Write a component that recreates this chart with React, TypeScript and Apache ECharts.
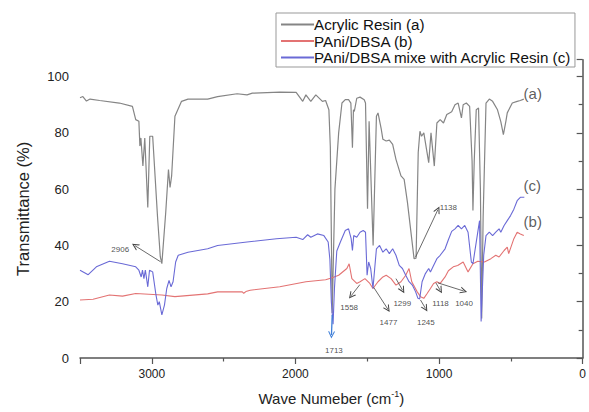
import { useEffect, useRef } from 'react';
import * as echarts from 'echarts';

// Acrylic Resin (a): [wave number, transmittance]
const acrylic: number[][] = [
  [3500, 92.5], [3480, 92.9], [3455, 91.3], [3430, 92.0], [3363, 91.5], [3226, 90.6], [3135, 89.4],
  [3112, 84.7], [3090, 84.1], [3083, 75.3], [3076, 78.2], [3062, 68.2], [3049, 78.2], [3028, 53.5],
  [3014, 78.8], [2994, 78.8], [2960, 50], [2948, 41.2], [2941, 36], [2930, 33.5], [2903, 51.8],
  [2884, 67], [2873, 60.6], [2862, 64.7], [2839, 85.9], [2793, 91.2], [2748, 92.0], [2611, 92.0],
  [2542, 92.9], [2406, 93.9], [2337, 93.5], [2300, 94.1], [2109, 94.5], [1995, 94.4], [1949, 91.2],
  [1927, 93.5], [1893, 91.2], [1858, 93.5], [1812, 91.2], [1790, 91.5], [1767, 88.2], [1757, 75],
  [1749, 40], [1744, 16], [1738, 30], [1725, 60], [1699, 80], [1676, 90.6], [1653, 91.8], [1630, 91.8],
  [1614, 90.6], [1603, 74.7], [1596, 88.2], [1590, 87.6], [1573, 92.3], [1550, 92.7], [1521, 91.8],
  [1512, 90.6], [1498, 53], [1487, 84.1], [1459, 40], [1436, 85.9], [1425, 87.1], [1402, 81.2],
  [1391, 77.7], [1368, 77.1], [1346, 77.4], [1323, 75.9], [1300, 70.6], [1265, 64.7], [1243, 63.5],
  [1220, 55.3], [1174, 35.3], [1160, 35.5], [1145, 73], [1133, 80.6], [1122, 78.8], [1106, 80],
  [1072, 69.4], [1056, 80], [1033, 68.2], [1015, 83.5], [992, 84.7], [969, 83.5], [946, 86.5],
  [930, 87], [912, 87.5], [889, 90], [867, 90.6], [844, 85.3], [832, 90], [810, 90.6], [787, 89.4],
  [770, 70], [764, 52.4], [755, 70], [741, 88.2], [725, 88.8], [712, 60], [703, 14], [693, 50],
  [673, 90.6], [650, 92], [627, 91.2], [593, 88.2], [570, 84], [552, 79.4], [535, 84], [525, 87.1],
  [490, 90.6], [456, 91.2], [434, 91.5], [410, 92],
];

// PAni/DBSA (b)
const pani: number[][] = [
  [3500, 20.6], [3409, 20.9], [3295, 22.4], [3204, 22.0], [3112, 22.9], [2930, 22.4], [2839, 21.8],
  [2611, 22.8], [2542, 23.5], [2370, 23.5], [2360, 23.0], [2345, 23.6], [2315, 24.1], [2109, 25.3],
  [1927, 27.1], [1790, 27.8], [1744, 28.5], [1699, 29.4], [1642, 31.8], [1626, 33.5], [1607, 28.2],
  [1573, 26.5], [1550, 27.1], [1516, 28.2], [1482, 26.5], [1460, 24.7], [1425, 27.1], [1391, 28.8],
  [1368, 29.4], [1334, 28.2], [1300, 25.9], [1265, 27.1], [1232, 29.4], [1209, 31.8], [1190, 27.1],
  [1152, 23.5], [1129, 21.8], [1106, 21.2], [1083, 22.9], [1060, 24.7], [1038, 26.5], [1015, 27.1],
  [992, 26.5], [958, 28.8], [935, 31], [901, 32.4], [870, 32.9], [832, 34.1], [798, 30.6], [764, 33.5],
  [730, 34.4], [684, 34.1], [639, 35.3], [605, 36.5], [582, 35.9], [547, 38.2], [525, 39.4], [515, 37.1],
  [479, 42.4], [456, 44.7], [434, 44.1], [410, 43.5],
];

// PAni/DBSA mixed with Acrylic Resin (c)
const mix: number[][] = [
  [3500, 31.2], [3443, 29.6], [3386, 32.4], [3295, 34.4], [3204, 33.5], [3112, 32.4], [3090, 31.2],
  [3074, 28.8], [3065, 31.2], [3055, 28.2], [3045, 31.2], [3028, 25.3], [3016, 31.2], [2994, 30.6],
  [2971, 22.4], [2958, 18.8], [2948, 20], [2930, 15.3], [2912, 18.8], [2896, 24.7], [2880, 27.6],
  [2866, 25.3], [2852, 27.1], [2834, 34.1], [2816, 36.5], [2748, 37.6], [2679, 38.2], [2611, 38.8],
  [2542, 40], [2337, 41.2], [2132, 42.4], [1995, 42.9], [1949, 42.1], [1915, 43.8], [1893, 42.9],
  [1847, 44.1], [1802, 43.5], [1772, 41.2], [1760, 35], [1750, 20], [1738, 12], [1728, 25], [1712, 38],
  [1687, 41.2], [1653, 45.3], [1630, 45.9], [1612, 42.4], [1603, 38.2], [1594, 43.5], [1573, 42.9],
  [1550, 44.7], [1528, 45.3], [1512, 44.7], [1501, 29.4], [1490, 34.1], [1476, 31.8], [1460, 24.7],
  [1448, 31.8], [1436, 38.8], [1414, 40], [1391, 37.6], [1368, 38.8], [1346, 37.1], [1323, 38.8],
  [1300, 36.5], [1277, 32.9], [1255, 31.8], [1232, 29.4], [1209, 27.1], [1186, 25.9], [1163, 23.5],
  [1147, 21.2], [1135, 21.0], [1118, 27.1], [1095, 30], [1072, 31.8], [1060, 30.6], [1038, 32.9],
  [1015, 35.3], [992, 36.5], [958, 38.8], [935, 42], [912, 45], [889, 45.9], [867, 47.1], [844, 45.9],
  [821, 47.1], [798, 44.7], [775, 34.1], [764, 33.5], [741, 41.2], [718, 48.8], [707, 13], [689, 36.5],
  [673, 43.5], [650, 44.7], [627, 43.5], [605, 44.7], [582, 45.9], [570, 44.7], [547, 47.1], [525, 48.8],
  [502, 50.6], [479, 52.9], [456, 55.9], [434, 57.1], [406, 57.1],
];

const seriesNames = ['Acrylic Resin (a)', 'PAni/DBSA (b)', 'PAni/DBSA mixe with Acrylic Resin (c)'];

// peak annotation texts: [wn, T, text]
const peakLabels: (number | string)[][] = [
  [3220, 38.6, '2906'], [935, 53.5, '1138'], [1626, 17.9, '1558'], [1352, 12.7, '1477'],
  [1256, 19.2, '1299'], [1092, 12.7, '1245'], [990, 19.2, '1118'], [826, 19.2, '1040'],
  [1732, 2.7, '1713'],
];
const curveLabels: (number | string)[][] = [
  [415, 93.9, '(a)'], [415, 61.2, '(c)'], [415, 48.5, '(b)'],
];
// arrows: [tail, head]
const arrows: number[][][] = [
  [[2939, 34.2], [3117, 39.9]],
  [[1163, 35.9], [1008, 52.7]],
  [[1551, 26.1], [1612, 22.1]],
  [[1455, 25.1], [1357, 17.4]],
  [[1300, 28.2], [1254, 24.1]],
  [[1129, 20.6], [1094, 17.6]],
  [[1022, 26.7], [992, 24.1]],
  [[1008, 26.7], [828, 23.8]],
];
const blueArrow: number[][] = [[1744, 15.3], [1749, 8.2]];

const chevron = 'path://M0,10 L5,0 L10,10 L8.4,10 L5,3.2 L1.6,10 Z';

export default function App() {
  const ref = useRef<HTMLDivElement>(null);
  useEffect(() => {
    if (!ref.current) return;
    const chart = echarts.init(ref.current, null, { renderer: 'svg' });
    const font = 'Liberation Sans, Arial, sans-serif';
    const lineData = [
      ...arrows.map((a) => [{ coord: a[0] }, { coord: a[1] }]),
      [
        { coord: blueArrow[0], lineStyle: { color: '#3f7fd8', width: 1.3 } },
        { coord: blueArrow[1] },
      ],
    ];
    chart.setOption({
      animation: false,
      textStyle: { fontFamily: font },
      grid: { left: 80, right: -3, top: 59.7, bottom: 52, containLabel: false },
      legend: {
        data: seriesNames,
        orient: 'vertical',
        left: 276,
        top: 13,
        padding: [4, 3, 2, 4],
        itemGap: 1.5,
        itemWidth: 33,
        itemHeight: 14,
        borderColor: '#999',
        borderWidth: 1,
        itemStyle: { opacity: 0 },
        textStyle: { fontSize: 15.2, color: '#111', fontFamily: font, padding: [0, 0, 0, -5] },
      },
      xAxis: {
        type: 'value',
        min: 0,
        max: 3500,
        interval: 1000,
        inverse: true,
        name: 'Wave Numeber (cm{sup|-1})',
        nameLocation: 'middle',
        nameGap: 31,
        nameTextStyle: {
          fontSize: 15,
          color: '#222',
          lineHeight: 18,
          rich: { sup: { fontSize: 9, lineHeight: 10, verticalAlign: 'top', color: '#222' } },
        },
        axisLine: { show: true, onZero: false, lineStyle: { color: '#555', width: 1.5 } },
        axisTick: { show: true, length: 6, lineStyle: { color: '#555', width: 1.2 } },
        minorTick: { show: true, splitNumber: 2, length: 3.5, lineStyle: { color: '#555', width: 1.2 } },
        axisLabel: {
          fontSize: 12,
          color: '#222',
          margin: 10,
          formatter: (v: number) => (v % 1000 === 0 ? String(v) : ''),
        },
        splitLine: { show: false },
      },
      yAxis: {
        type: 'value',
        min: 0,
        max: 106,
        interval: 20,
        name: 'Transmittance (%)',
        nameLocation: 'middle',
        nameGap: 49,
        nameTextStyle: { fontSize: 16.5, color: '#222' },
        axisLine: { show: true, lineStyle: { color: '#555', width: 1.5 } },
        axisTick: { show: true, length: 6, lineStyle: { color: '#555', width: 1.2 } },
        minorTick: { show: true, splitNumber: 2, length: 4, lineStyle: { color: '#555', width: 1.2 } },
        axisLabel: {
          fontSize: 13,
          color: '#222',
          margin: 11,
          formatter: (v: number) => (v % 20 === 0 ? String(v) : ''),
        },
        splitLine: { show: false },
      },
      series: [
        {
          name: seriesNames[0],
          type: 'line',
          data: acrylic,
          symbol: 'none',
          lineStyle: { color: '#858585', width: 1.2 },
          itemStyle: { color: '#555' },
          silent: true,
        },
        {
          name: seriesNames[1],
          type: 'line',
          data: pani,
          symbol: 'none',
          lineStyle: { color: '#e37373', width: 1.1 },
          itemStyle: { color: '#e37373' },
          silent: true,
        },
        {
          name: seriesNames[2],
          type: 'line',
          data: mix,
          symbol: 'none',
          lineStyle: { color: '#6a6ad6', width: 1.1 },
          itemStyle: { color: '#6a6ad6' },
          silent: true,
        },
        {
          name: 'peaks',
          type: 'scatter',
          data: peakLabels,
          symbolSize: 1,
          itemStyle: { color: 'rgba(0,0,0,0)' },
          silent: true,
          label: {
            show: true,
            position: 'inside',
            formatter: (p: any) => p.value[2],
            fontSize: 8,
            color: '#222',
            fontFamily: font,
          },
          markLine: {
            silent: true,
            symbol: ['none', chevron],
            symbolSize: [7, 7],
            label: { show: false },
            lineStyle: { color: '#444', width: 0.8, type: 'solid' },
            data: lineData,
          },
        },
        {
          name: 'curveLabels',
          type: 'scatter',
          data: curveLabels,
          symbolSize: 1,
          itemStyle: { color: 'rgba(0,0,0,0)' },
          silent: true,
          label: {
            show: true,
            position: 'right',
            distance: 0,
            formatter: (p: any) => p.value[2],
            fontSize: 15,
            color: '#333',
            fontFamily: font,
          },
        },
      ],
    });
    return () => chart.dispose();
  }, []);
  return (
    <div
      ref={ref}
      style={{ position: 'absolute', left: 0, top: 0, width: 589, height: 412, background: '#fff' }}
    />
  );
}
